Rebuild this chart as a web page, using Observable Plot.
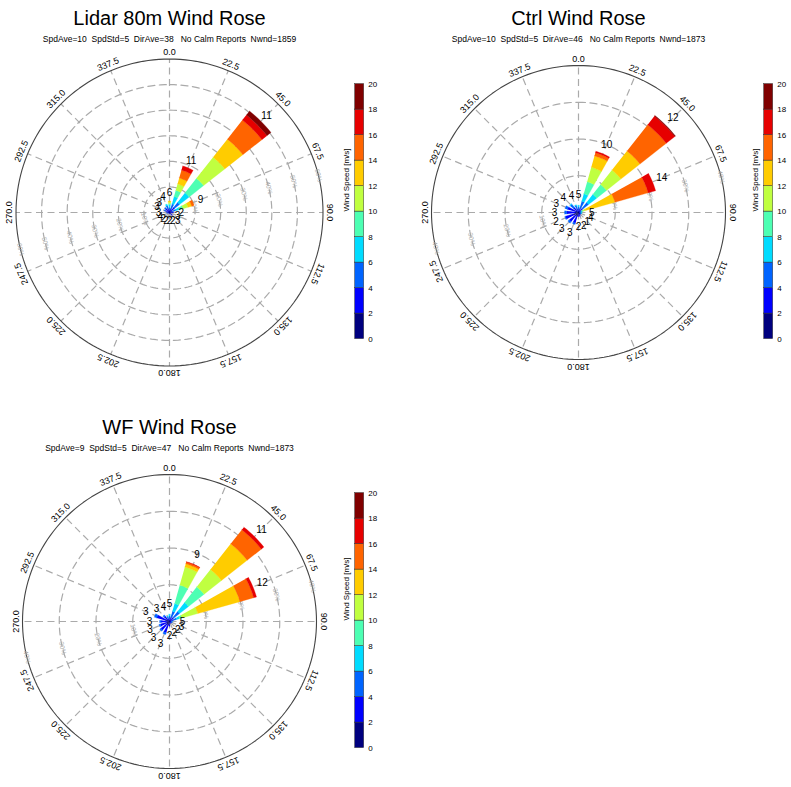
<!DOCTYPE html>
<html><head><meta charset="utf-8">
<script src="https://cdn.jsdelivr.net/npm/d3@7"></script>
<script src="https://cdn.jsdelivr.net/npm/@observablehq/plot@0.6"></script>
<style>
body{margin:0;background:#fff;font-family:"Liberation Sans",Arial,sans-serif;}
#root{position:relative;width:791px;height:787px;overflow:hidden;background:#fff;}
#root svg{position:absolute;overflow:visible;}
svg text{white-space:pre;}
</style></head><body><div id="root"></div>
<script>
// ---------- data ----------
const directions = [0,22.5,45,67.5,90,112.5,135,157.5,180,202.5,225,247.5,270,292.5,315,337.5];
const speedBreaks = [2,4,6,8,10,12,14,16,18];
const speedTicks = [0,2,4,6,8,10,12,14,16,18,20];
const speedMid = [1,3,5,7,9,11,13,15,17,19];
const speedColors = ["#00007f","#0000ff","#0064ff","#00dcff","#4dffb3","#c0ff40","#ffcc00","#ff6400","#e60000","#800000"];

// percent of reports per direction (rows) and speed class (columns, 0-2 ... 18-20 m/s)
const lidarPct = [
 [0.3,0.7,1.0,1.0,0.5,0.5,0.5],
 [0.3,1.2,2.0,3.0,2.5,2.6,2.4,3.2,1.7],
 [0.8,1.7,2.5,4.8,7.2,10.5,9.0,9.5,2.5,2.0],
 [0.3,0.7,1.5,1.5,1.5,2.0,1.5,1.0],
 [0.8,0.7],
 [0.1,0.2],
 [0.5,1.0],
 [0.2,0.1],
 [0.2,0.1],
 [0.2,0.1],
 [0.2,0.1],
 [0.1,0.3,0.4],
 [0.3,0.6,0.3],
 [0.5,1.2,0.5],
 [0.5,1.4,0.6],
 [0.4,1.2,1.2,0.6]
];
const lidarLabels = [6,11,11,9,2,3,3,2,2,2,2,4,3,3,3,4];
const lidarRings = [10,20,30,40,50,60];

const ctrlPct = [
 [0.2,0.6,0.7,0.5],
 [0.3,0.9,2.0,2.1,3.4,4.1,3.2,0.9,0.4],
 [0.5,1.0,2.0,2.8,3.4,5.0,6.6,9.1,3.0,0.2],
 [0.2,0.3,0.3,0.2,0.3,0.7,8.3,9.4,2.1],
 [0.1,0.3,0.3,0.2],
 [0.1,0.4,0.3,0.1],
 [0.4,0.3],
 [0.5,0.6],
 [0.5,0.6],
 [1.0,2.0,0.4],
 [1.0,2.2,0.5],
 [1.5,2.2,0.2],
 [0.9,2.3,0.6],
 [0.8,2.3,0.7],
 [0.3,1.4,1.2,0.2],
 [0.2,0.8,1.0,0.2]
];
const ctrlLabels = [5,10,12,14,5,4,1,2,2,3,3,2,3,3,4,4];
const ctrlRings = [10,20,30,40];

const wfPct = [
 [0.2,0.6,0.7,0.5],
 [0.3,0.9,1.7,2.2,5.2,5.1,0.9,0.5,0.1],
 [0.5,1.0,2.0,3.1,5.4,6.0,8.9,4.9,0.9],
 [0.3,0.7,1.0,0.8,0.7,4.5,11.9,3.9,0.8],
 [0.1,0.3,0.3,0.1],
 [0.2,0.4,0.2],
 [0.2,0.3],
 [0.3,0.3],
 [0.6,0.7],
 [1.0,2.2,0.5],
 [1.0,2.0,0.4],
 [0.8,1.8,0.4],
 [0.7,1.6,0.4],
 [1.1,2.5,0.7],
 [0.6,1.3,0.4],
 [0.2,0.6,0.6,0.2]
];
const wfLabels = [5,9,11,12,5,3,2,2,2,3,3,3,3,3,3,4];
const wfRings = [10,20,30,40];

const panels = [
 {title:"Lidar 80m Wind Rose", sub:"SpdAve=10  SpdStd=5  DirAve=38   No Calm Reports  Nwnd=1859",
  pct:lidarPct, labels:lidarLabels, rings:lidarRings, cx:169.3, cy:211.7, R:153.5, gap:8},
 {title:"Ctrl Wind Rose", sub:"SpdAve=10  SpdStd=5  DirAve=46   No Calm Reports  Nwnd=1873",
  pct:ctrlPct, labels:ctrlLabels, rings:ctrlRings, cx:578.3, cy:211.7, R:147, gap:10},
 {title:"WF Wind Rose", sub:"SpdAve=9  SpdStd=5  DirAve=47   No Calm Reports  Nwnd=1873",
  pct:wfPct, labels:wfLabels, rings:wfRings, cx:169.3, cy:621, R:147, gap:10}
];

// ---------- drawing ----------
const root = document.getElementById("root");
const colorScale = {type:"threshold", domain:speedBreaks, range:speedColors};
const rad = a => a*Math.PI/180;
const polar = (r,a) => [r*Math.sin(rad(a)), r*Math.cos(rad(a))];
const FONT = "Liberation Sans, Arial, sans-serif";

function rose(p){
  const maxRing = d3.max(p.rings);
  const k = p.R / maxRing;             // px per percent
  const W = 340, H = 380, ox = 170, oy = 205;
  const hw = 6.75, nArc = 8;
  const segs = [];
  directions.forEach((dir,i)=>{
    let c = 0;
    p.pct[i].forEach((v,j)=>{
      if(v<=0) return;
      const r0=c, r1=c+v; c=r1;
      const id = i+"-"+j;
      const pts=[];
      for(let s=0;s<=nArc;s++) pts.push(polar(r1, dir-hw+2*hw*s/nArc));
      if(r0>0) for(let s=nArc;s>=0;s--) pts.push(polar(r0, dir-hw+2*hw*s/nArc));
      else pts.push([0,0]);
      pts.forEach(([x,y])=>segs.push({id,x,y,speed:speedMid[j]}));
    });
  });
  const tips = directions.map((dir,i)=>{
    const r = d3.sum(p.pct[i]) + p.gap/k;
    const [x,y] = polar(r,dir);
    return {x,y,label:String(p.labels[i])};
  });
  const circ = (r)=> d3.range(0,361,2).map(a=>{const [x,y]=polar(r,a);return {r,x,y};});
  const inner = p.rings.filter(r=>r<maxRing).flatMap(circ);
  const outer = circ(maxRing);
  const spokes = directions.map(d=>{const [x,y]=polar(maxRing,d);return {x,y};});
  const dirLab = directions.map(d=>{const [x,y]=polar(maxRing+4/k,d);return {x,y,d,t:d.toFixed(1)};});
  const ringLab = p.rings.flatMap(r=>[76,256].map(a=>{const [x,y]=polar(r,a);return {x,y,t:r+"%"};}));

  const svg = Plot.plot({
    width:W, height:H, margin:0,
    x:{domain:[-ox/k,(W-ox)/k], range:[0,W], axis:null},
    y:{domain:[-(H-oy)/k, oy/k], range:[H,0], axis:null},
    color:colorScale,
    style:{fontFamily:FONT, background:"transparent", overflow:"visible", color:"#000"},
    marks:[
      Plot.line(inner,{x:"x",y:"y",z:"r",stroke:"#aaaaaa",strokeWidth:1.2,strokeDasharray:"7,4.5"}),
      Plot.link(spokes,{x1:0,y1:0,x2:"x",y2:"y",stroke:"#aaaaaa",strokeWidth:1.2,strokeDasharray:"7,4.5"}),
      Plot.line(outer,{x:"x",y:"y",stroke:"#444",strokeWidth:1.1}),
      Plot.text(ringLab,{x:"x",y:"y",text:"t",rotate:76,fontSize:6.5,fill:"#a8a8a8"}),
      Plot.line(segs,{x:"x",y:"y",z:"id",fill:"speed",stroke:"speed",strokeWidth:0.3}),
      Plot.text(tips,{x:"x",y:"y",text:"label",fontSize:10,fill:"#000"}),
      Plot.text(dirLab,{x:"x",y:"y",text:"t",rotate:"d",lineAnchor:"bottom",fontSize:9,fill:"#000"}),
      Plot.text([p.title],{frameAnchor:"top",lineAnchor:"bottom",dy:oy-187.2,fontSize:20,fill:"#000"}),
      Plot.text([p.sub],{frameAnchor:"top",lineAnchor:"bottom",dy:oy-171,fontSize:8.5,fill:"#000"})
    ]
  });
  svg.style.left=(p.cx-ox)+"px";
  svg.style.top=(p.cy-oy)+"px";
  root.appendChild(svg);
}

function colorbar(p){
  const W=60, H=290;
  const classes = speedMid.map((m,i)=>({lo:speedTicks[i],hi:speedTicks[i+1],mid:m}));
  const svg = Plot.plot({
    width:W, height:H, marginLeft:25.7, marginRight:25.3, marginTop:16.6, marginBottom:18.4,
    x:{domain:[0,1], axis:null},
    y:{domain:[0,20]},
    color:colorScale,
    style:{fontFamily:FONT, background:"transparent", overflow:"visible", color:"#000"},
    marks:[
      Plot.rect(classes,{x1:0,x2:1,y1:"lo",y2:"hi",fill:"mid",stroke:"#333",strokeWidth:0.5}),
      Plot.axisY({anchor:"right",ticks:speedTicks,tickSize:0,tickPadding:4,label:null,fontSize:8}),
      Plot.text(["Wind Speed [m/s]"],{frameAnchor:"left",rotate:-90,dx:-9,fontSize:8,fill:"#000"})
    ]
  });
  svg.style.left=(p.cx+160)+"px";
  svg.style.top=(p.cy-145)+"px";
  root.appendChild(svg);
}

panels.forEach(p=>{rose(p);colorbar(p);});
</script>
</body></html>
